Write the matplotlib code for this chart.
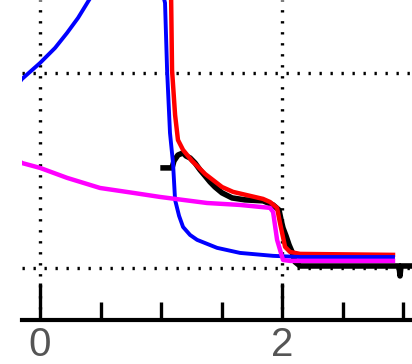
import matplotlib.pyplot as plt

# curves (x, y)
blue_left_x = [-0.16, -0.149, 0.0, 0.124, 0.223, 0.314, 0.405, 0.455]
blue_left_y = [0.96, 0.969, 1.051, 1.128, 1.205, 1.282, 1.374, 1.421]

blue_right_x = [1.017, 1.033, 1.050, 1.074, 1.099, 1.116, 1.149, 1.182, 1.240, 1.298, 1.463, 1.653, 1.926, 2.149, 2.479, 2.917]
blue_right_y = [1.400, 1.359, 1.015, 0.692, 0.538, 0.349, 0.267, 0.210, 0.169, 0.144, 0.103, 0.077, 0.062, 0.056, 0.056, 0.056]

red_x = [1.083, 1.091, 1.116, 1.140, 1.182, 1.256, 1.364, 1.504, 1.595, 1.843, 1.901, 1.959, 1.983, 2.025, 2.066, 2.149, 2.917]
red_y = [1.400, 1.015, 0.785, 0.656, 0.605, 0.549, 0.482, 0.415, 0.390, 0.354, 0.338, 0.308, 0.231, 0.108, 0.082, 0.072, 0.067]

magenta_x = [-0.16, -0.149, 0.0, 0.223, 0.496, 0.769, 0.992, 1.380, 1.653, 1.901, 1.926, 1.959, 2.008, 2.066, 2.917]
magenta_y = [0.543, 0.538, 0.513, 0.462, 0.410, 0.385, 0.364, 0.333, 0.323, 0.308, 0.287, 0.144, 0.041, 0.036, 0.036]

data_x = [1.017, 1.091, 1.107, 1.140, 1.182, 1.207, 1.240, 1.281, 1.322, 1.364, 1.405, 1.446, 1.504, 1.587, 1.694,
          1.843, 1.926, 1.975, 1.992, 2.008, 2.033, 2.058, 2.083, 2.107, 2.149, 2.562, 2.967, 2.975, 2.983, 3.099]
data_y = [0.513, 0.513, 0.549, 0.579, 0.590, 0.574, 0.564, 0.538, 0.503, 0.472, 0.441, 0.415, 0.385, 0.359, 0.349,
          0.344, 0.323, 0.297, 0.246, 0.205, 0.164, 0.118, 0.082, 0.031, 0.010, 0.010, 0.010, -0.041, 0.010, 0.010]

major_ticks = [0, 2]
minor_ticks = [0.5, 1.0, 1.5, 2.5, 3.0]
grid_y = [0, 1]

fig = plt.figure(figsize=(4.12, 3.64), dpi=100)
ax = fig.add_axes([22/412, 44/364, 390/412, 320/364])

# dotted grid
for gx in major_ticks:
    ax.axvline(gx, color='black', lw=2.4, ls=(0, (0.7, 2.6)), zorder=1)
for gy in grid_y:
    ax.axhline(gy, color='black', lw=2.4, ls=(0, (0.7, 2.6)), zorder=1)

ax.plot(data_x, data_y, color='black', lw=4.0, zorder=2)
ax.plot(red_x, red_y, color='#ff0000', lw=3.2, zorder=3)
ax.plot(blue_left_x, blue_left_y, color='#0000ff', lw=2.8, zorder=4)
ax.plot(blue_right_x, blue_right_y, color='#0000ff', lw=2.8, zorder=4)
ax.plot(magenta_x, magenta_y, color='#ff00ff', lw=3.2, zorder=5)

ax.set_xlim(-0.149, 3.074)
ax.set_ylim(-0.267, 1.374)

for s in ['top', 'left', 'right']:
    ax.spines[s].set_visible(False)
ax.spines['bottom'].set_linewidth(3)

ax.set_xticks(major_ticks)
ax.set_xticklabels(['0', '2'])
ax.set_xticks(minor_ticks, minor=True)
ax.set_yticks([])
ax.tick_params(axis='x', which='major', direction='in', length=27, width=2.4, pad=4,
               labelsize=29, labelcolor='#555555')
ax.tick_params(axis='x', which='minor', direction='in', length=13, width=2.4)
for lab in ax.get_xticklabels():
    lab.set_family('Liberation Sans')

plt.savefig('out.png', dpi=100)
plt.close()
